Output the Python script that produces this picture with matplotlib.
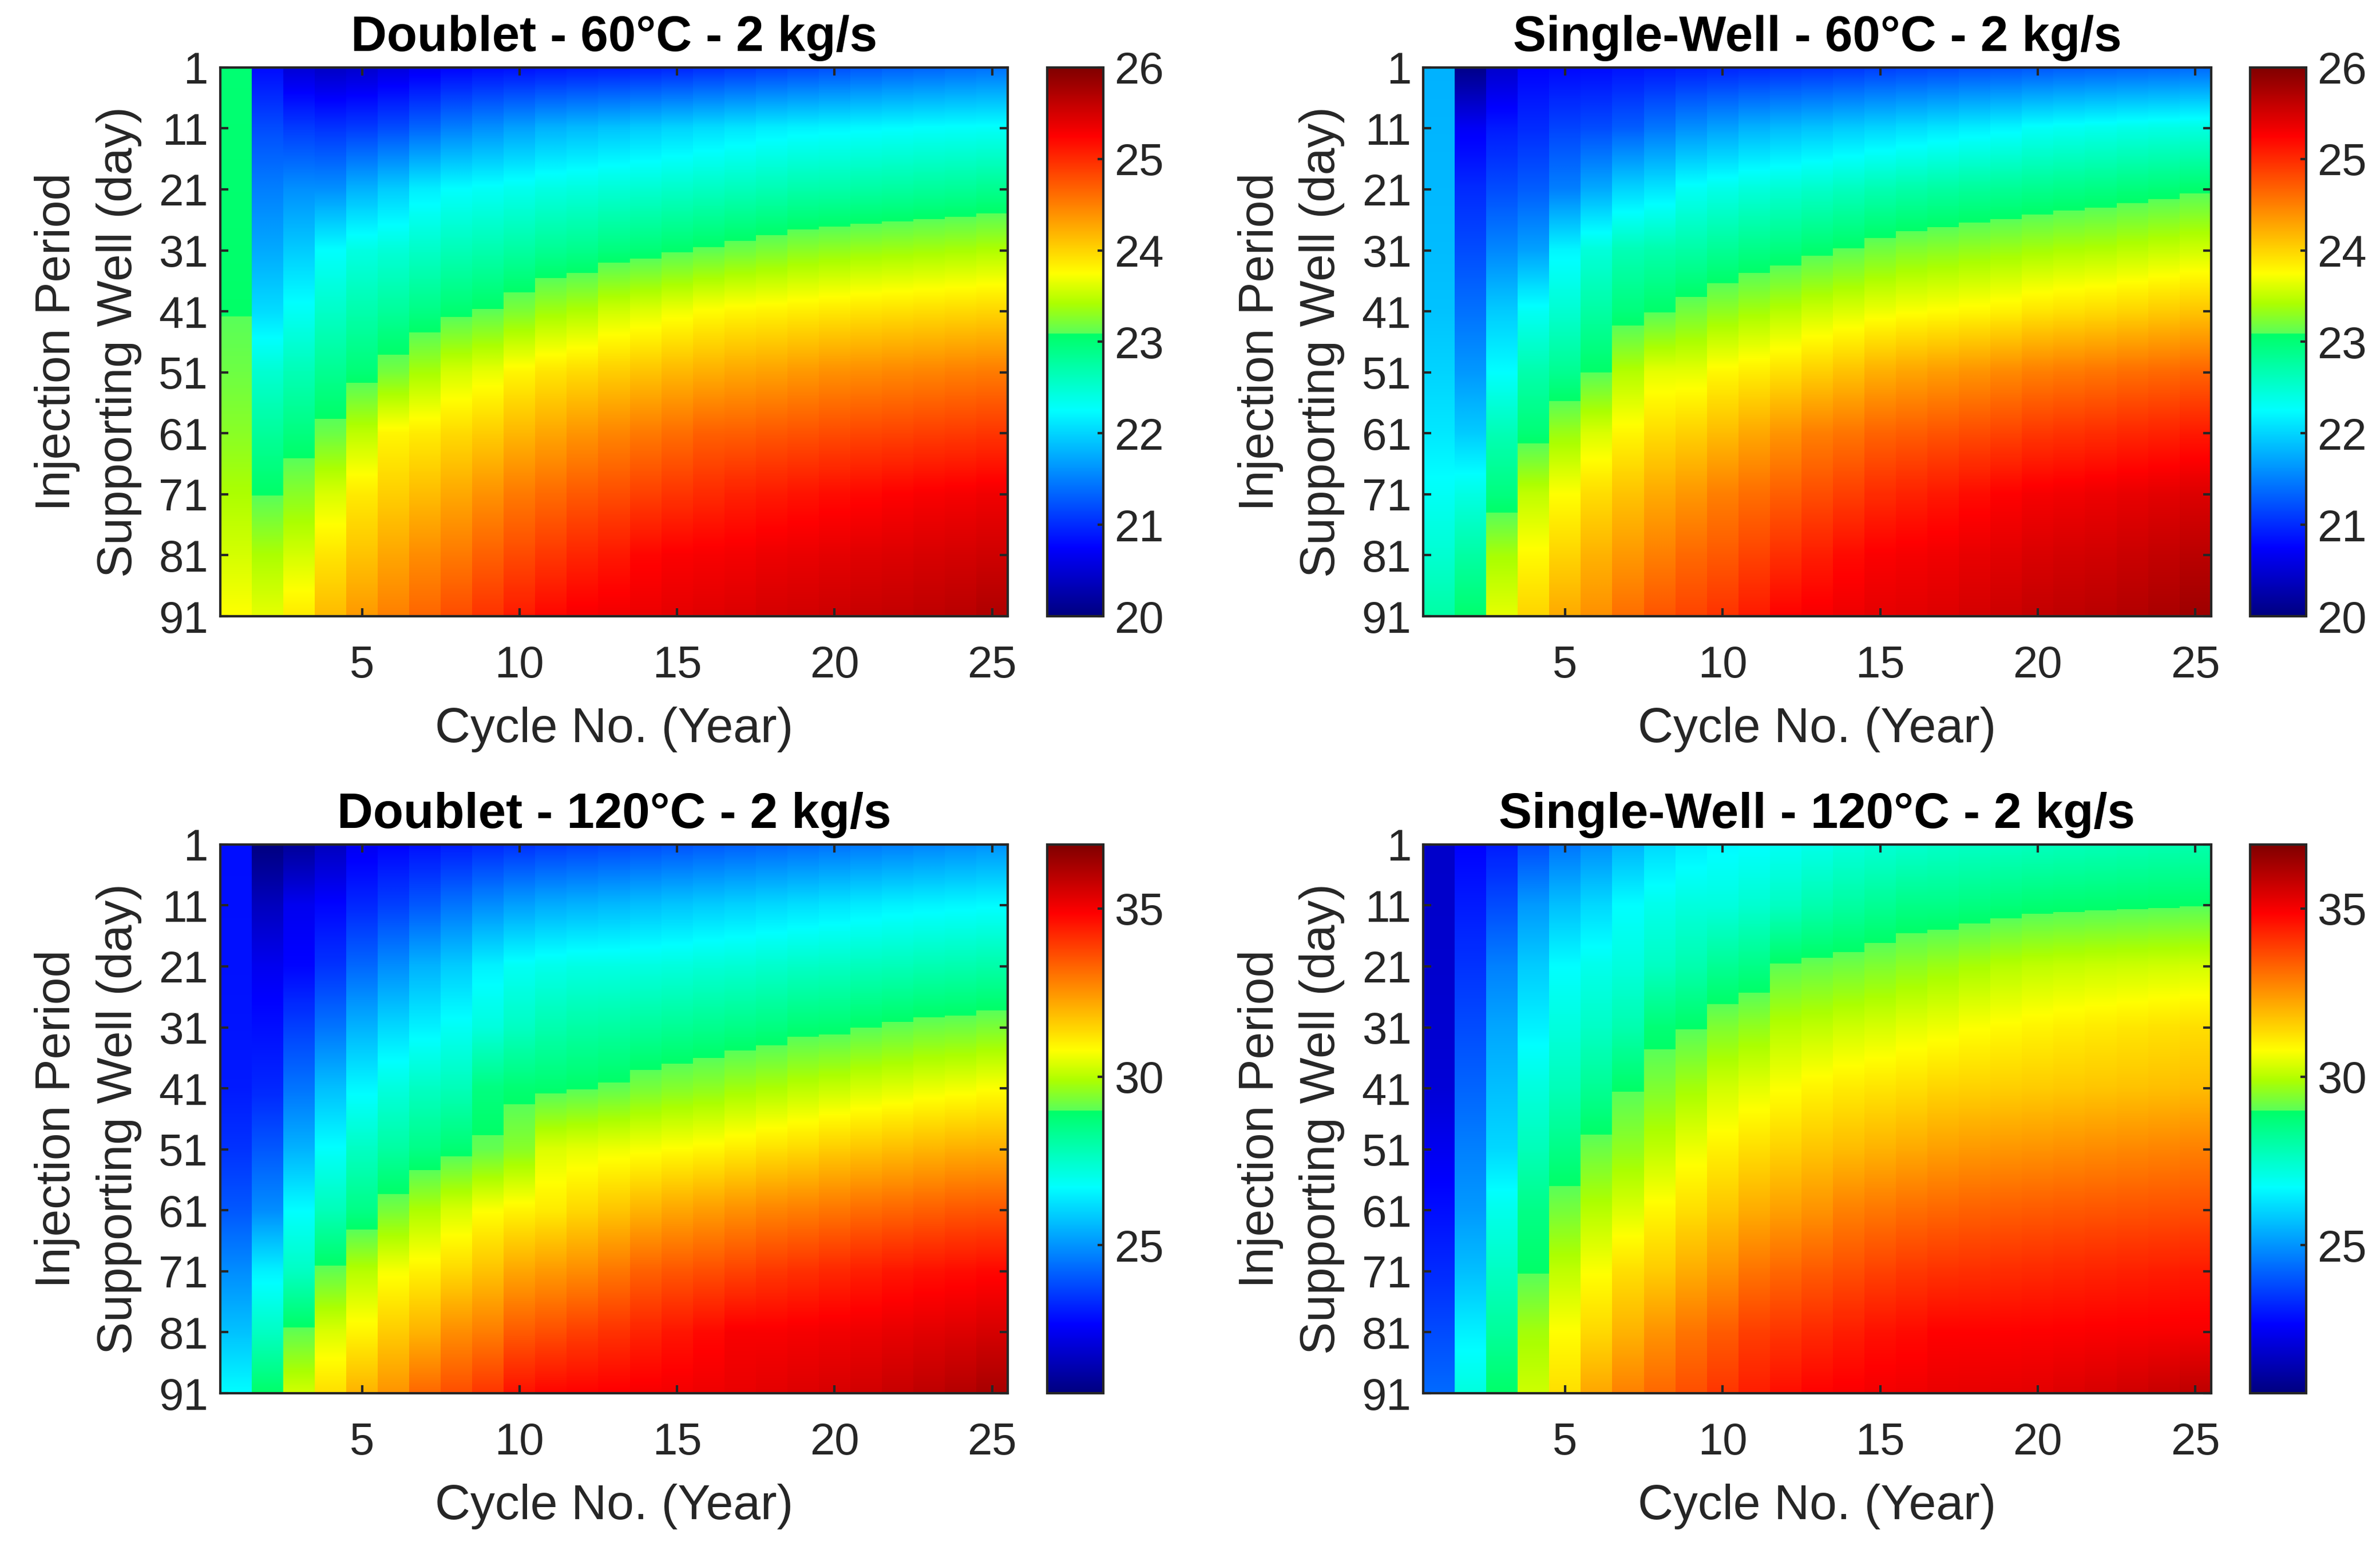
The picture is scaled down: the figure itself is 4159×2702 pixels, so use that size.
import numpy as np
import matplotlib
matplotlib.use("Agg")
import matplotlib.pyplot as plt
from matplotlib.colors import LinearSegmentedColormap, Normalize
from matplotlib.cm import ScalarMappable

# ---------------- data ----------------
cycles = list(range(1, 26))                     # Cycle No. (Year)
days = [1, 11, 21, 31, 41, 51, 61, 71, 81, 91]  # Injection period of supporting well (day)

titles = ["Doublet - 60°C - 2 kg/s", "Single-Well - 60°C - 2 kg/s",
          "Doublet - 120°C - 2 kg/s", "Single-Well - 120°C - 2 kg/s"]

# one row per cycle, values at the days above
doublet_60 = [
    [23.02, 23.03, 23.04, 23.06, 23.08, 23.17, 23.28, 23.42, 23.58, 23.75],
    [20.80, 21.20, 21.50, 21.75, 22.05, 22.50, 22.80, 23.08, 23.42, 23.65],
    [20.50, 21.10, 21.60, 21.95, 22.30, 22.65, 22.95, 23.28, 23.58, 23.87],
    [20.40, 21.05, 21.60, 22.25, 22.55, 22.85, 23.16, 23.60, 23.90, 24.15],
    [20.45, 21.10, 21.80, 22.40, 22.70, 23.00, 23.49, 23.87, 24.10, 24.35],
    [20.55, 21.20, 21.95, 22.46, 22.80, 23.20, 23.80, 24.03, 24.27, 24.50],
    [20.65, 21.35, 22.15, 22.55, 22.92, 23.40, 23.86, 24.14, 24.42, 24.65],
    [20.75, 21.50, 22.25, 22.64, 23.03, 23.58, 23.96, 24.26, 24.53, 24.80],
    [20.80, 21.60, 22.29, 22.69, 23.10, 23.66, 24.04, 24.39, 24.68, 24.95],
    [20.82, 21.70, 22.34, 22.76, 23.23, 23.80, 24.17, 24.53, 24.81, 25.10],
    [20.85, 21.80, 22.40, 22.84, 23.37, 23.90, 24.27, 24.62, 24.92, 25.22],
    [20.88, 21.85, 22.43, 22.88, 23.43, 23.96, 24.37, 24.72, 25.03, 25.30],
    [20.90, 21.90, 22.47, 22.96, 23.56, 24.04, 24.46, 24.79, 25.11, 25.33],
    [20.92, 21.95, 22.50, 23.00, 23.62, 24.10, 24.53, 24.87, 25.22, 25.36],
    [20.95, 22.00, 22.54, 23.06, 23.69, 24.17, 24.60, 24.94, 25.27, 25.40],
    [21.00, 22.05, 22.58, 23.11, 23.76, 24.22, 24.68, 25.00, 25.29, 25.43],
    [21.05, 22.10, 22.62, 23.17, 23.80, 24.27, 24.69, 25.06, 25.31, 25.46],
    [21.10, 22.15, 22.66, 23.22, 23.82, 24.30, 24.73, 25.10, 25.35, 25.50],
    [21.15, 22.18, 22.71, 23.28, 23.85, 24.35, 24.76, 25.14, 25.37, 25.52],
    [21.20, 22.20, 22.72, 23.31, 23.88, 24.40, 24.80, 25.18, 25.40, 25.55],
    [21.25, 22.22, 22.75, 23.34, 23.91, 24.42, 24.83, 25.21, 25.43, 25.58],
    [21.30, 22.24, 22.77, 23.36, 23.93, 24.45, 24.85, 25.25, 25.45, 25.60],
    [21.33, 22.26, 22.80, 23.38, 23.95, 24.47, 24.88, 25.28, 25.48, 25.63],
    [21.37, 22.27, 22.82, 23.40, 23.97, 24.50, 24.90, 25.30, 25.50, 25.66],
    [21.40, 22.28, 22.86, 23.43, 23.99, 24.52, 24.93, 25.33, 25.53, 25.72],
]

single_60 = [
    [21.80, 21.82, 21.84, 21.86, 21.90, 22.00, 22.12, 22.30, 22.50, 22.75],
    [20.05, 20.70, 21.00, 21.20, 21.42, 21.65, 21.95, 22.40, 22.75, 23.05],
    [20.45, 20.90, 21.20, 21.55, 21.95, 22.25, 22.65, 22.95, 23.40, 23.65],
    [20.75, 21.00, 21.30, 21.70, 22.30, 22.70, 23.00, 23.50, 23.78, 24.00],
    [20.78, 21.15, 21.50, 22.20, 22.50, 22.85, 23.35, 23.75, 24.00, 24.25],
    [20.80, 21.20, 21.75, 22.45, 22.75, 23.08, 23.60, 23.95, 24.20, 24.40],
    [20.85, 21.30, 22.00, 22.65, 22.97, 23.45, 23.80, 24.10, 24.35, 24.60],
    [20.88, 21.45, 22.10, 22.70, 23.07, 23.65, 23.95, 24.25, 24.50, 24.75],
    [20.92, 21.60, 22.30, 22.74, 23.19, 23.65, 24.02, 24.36, 24.63, 24.85],
    [20.95, 21.70, 22.37, 22.83, 23.30, 23.79, 24.14, 24.50, 24.72, 24.95],
    [20.97, 21.80, 22.44, 22.91, 23.38, 23.85, 24.26, 24.60, 24.85, 25.10],
    [21.00, 21.85, 22.49, 22.96, 23.46, 23.93, 24.37, 24.69, 24.97, 25.25],
    [21.02, 21.90, 22.54, 23.04, 23.55, 24.03, 24.50, 24.79, 25.08, 25.30],
    [21.05, 21.95, 22.60, 23.10, 23.61, 24.11, 24.56, 24.88, 25.19, 25.35],
    [21.10, 22.00, 22.67, 23.19, 23.68, 24.22, 24.66, 24.99, 25.27, 25.40],
    [21.13, 22.05, 22.72, 23.25, 23.73, 24.28, 24.70, 25.05, 25.30, 25.42],
    [21.16, 22.10, 22.76, 23.28, 23.76, 24.33, 24.75, 25.11, 25.33, 25.45],
    [21.20, 22.15, 22.80, 23.32, 23.79, 24.38, 24.80, 25.18, 25.38, 25.50],
    [21.22, 22.20, 22.83, 23.35, 23.83, 24.44, 24.85, 25.25, 25.42, 25.55],
    [21.25, 22.28, 22.87, 23.39, 23.90, 24.50, 24.92, 25.30, 25.47, 25.60],
    [21.28, 22.31, 22.90, 23.42, 23.93, 24.53, 24.95, 25.32, 25.50, 25.63],
    [21.30, 22.34, 22.93, 23.44, 23.96, 24.56, 24.98, 25.35, 25.52, 25.66],
    [21.32, 22.37, 22.97, 23.48, 24.00, 24.60, 25.02, 25.38, 25.56, 25.70],
    [21.34, 22.39, 23.00, 23.52, 24.05, 24.63, 25.05, 25.41, 25.60, 25.75],
    [21.36, 22.41, 23.05, 23.56, 24.09, 24.66, 25.10, 25.45, 25.65, 25.82],
]

doublet_120 = [
    [22.85, 22.87, 22.90, 22.95, 23.05, 23.45, 24.05, 24.90, 25.75, 26.70],
    [20.60, 21.60, 22.40, 22.85, 23.25, 24.05, 24.90, 26.50, 27.60, 28.95],
    [21.00, 22.40, 22.70, 23.65, 24.50, 25.50, 26.70, 27.60, 29.10, 30.30],
    [21.60, 22.70, 23.45, 24.50, 25.70, 26.75, 27.75, 29.10, 30.40, 31.30],
    [22.40, 23.25, 24.30, 25.50, 26.60, 27.60, 28.50, 30.00, 30.95, 32.00],
    [22.64, 23.65, 24.90, 26.10, 27.20, 28.10, 29.30, 30.70, 31.60, 32.50],
    [22.85, 24.05, 25.50, 26.50, 27.60, 28.50, 29.90, 31.00, 32.00, 33.20],
    [23.05, 24.50, 25.90, 26.85, 27.75, 28.80, 30.35, 31.40, 32.60, 33.60],
    [23.25, 24.90, 26.50, 27.20, 28.60, 29.10, 30.75, 31.75, 32.85, 34.00],
    [23.40, 25.20, 26.85, 27.60, 28.80, 29.50, 30.95, 32.20, 33.40, 34.60],
    [23.55, 25.40, 27.00, 27.90, 28.85, 30.40, 31.10, 32.40, 33.60, 34.80],
    [23.65, 25.50, 27.10, 28.05, 28.95, 30.50, 31.40, 32.60, 33.85, 34.85],
    [23.75, 25.60, 27.10, 28.10, 29.07, 30.60, 31.70, 32.95, 34.05, 34.92],
    [23.85, 25.70, 27.15, 28.20, 29.31, 30.70, 31.99, 33.30, 34.30, 35.00],
    [23.95, 25.80, 27.20, 28.30, 29.45, 30.80, 32.20, 33.47, 34.53, 35.05],
    [24.05, 25.90, 27.30, 28.40, 29.55, 30.90, 32.36, 33.60, 34.73, 35.12],
    [24.15, 26.00, 27.35, 28.50, 29.75, 31.08, 32.55, 33.78, 34.96, 35.20],
    [24.25, 26.10, 27.45, 28.60, 29.88, 31.26, 32.73, 33.96, 34.95, 35.30],
    [24.35, 26.20, 27.55, 28.78, 30.05, 31.38, 32.83, 34.08, 35.01, 35.40],
    [24.45, 26.30, 27.60, 28.82, 30.17, 31.58, 32.97, 34.23, 35.07, 35.50],
    [24.55, 26.40, 27.70, 28.97, 30.32, 31.70, 33.12, 34.37, 35.14, 35.60],
    [24.65, 26.50, 27.75, 29.09, 30.43, 31.83, 33.22, 34.51, 35.23, 35.75],
    [24.75, 26.55, 27.85, 29.20, 30.55, 31.95, 33.33, 34.60, 35.32, 35.90],
    [24.85, 26.60, 27.90, 29.24, 30.63, 32.06, 33.45, 34.67, 35.40, 36.05],
    [24.95, 26.65, 27.98, 29.35, 30.75, 32.09, 33.48, 34.75, 35.52, 36.25],
]

single_120 = [
    [21.80, 21.82, 21.85, 21.90, 22.00, 22.40, 22.85, 23.30, 23.85, 24.35],
    [22.64, 23.05, 23.45, 23.85, 24.25, 24.70, 25.10, 25.70, 26.50, 27.20],
    [23.05, 23.85, 24.70, 25.30, 25.70, 26.10, 27.00, 27.60, 28.20, 28.95],
    [23.85, 25.10, 25.90, 26.50, 27.20, 27.75, 28.50, 28.95, 29.80, 30.25],
    [24.50, 25.70, 26.70, 27.20, 27.75, 28.50, 29.30, 30.10, 30.80, 31.30],
    [24.90, 26.10, 27.00, 27.55, 28.30, 29.20, 30.00, 30.75, 31.40, 32.20],
    [25.50, 26.70, 27.20, 27.90, 28.95, 29.60, 30.40, 31.30, 32.00, 32.80],
    [26.10, 27.00, 27.60, 28.75, 29.40, 30.10, 30.90, 31.60, 32.50, 33.20],
    [26.40, 27.20, 27.90, 28.95, 29.80, 30.60, 31.30, 32.10, 33.00, 33.60],
    [26.60, 27.20, 28.30, 29.40, 30.30, 31.00, 31.70, 32.50, 33.40, 34.00],
    [26.70, 27.40, 28.50, 29.60, 30.50, 31.30, 32.10, 33.00, 33.85, 34.40],
    [26.85, 27.60, 29.05, 30.00, 30.75, 31.50, 32.30, 33.20, 34.00, 34.65],
    [27.00, 27.90, 29.15, 30.10, 30.95, 31.70, 32.50, 33.40, 34.20, 34.85],
    [27.20, 28.10, 29.25, 30.25, 31.10, 31.85, 32.80, 33.60, 34.40, 34.95],
    [27.30, 28.30, 29.40, 30.35, 31.20, 32.00, 32.95, 33.80, 34.60, 35.05],
    [27.40, 28.50, 29.55, 30.50, 31.30, 32.15, 33.10, 33.95, 34.70, 35.10],
    [27.50, 28.50, 29.70, 30.60, 31.45, 32.30, 33.20, 34.05, 34.85, 35.20],
    [27.55, 28.60, 29.85, 30.75, 31.50, 32.40, 33.30, 34.10, 34.85, 35.23],
    [27.60, 28.70, 30.00, 30.85, 31.55, 32.45, 33.35, 34.15, 34.86, 35.26],
    [27.65, 28.80, 30.10, 30.95, 31.60, 32.50, 33.40, 34.20, 34.88, 35.30],
    [27.70, 28.83, 30.15, 31.03, 31.65, 32.56, 33.44, 34.25, 34.90, 35.40],
    [27.75, 28.86, 30.20, 31.10, 31.70, 32.62, 33.48, 34.30, 34.93, 35.50],
    [27.80, 28.89, 30.23, 31.17, 31.75, 32.68, 33.52, 34.35, 34.95, 35.62],
    [27.85, 28.92, 30.27, 31.24, 31.80, 32.74, 33.56, 34.40, 34.97, 35.75],
    [27.90, 28.95, 30.30, 31.30, 31.85, 32.80, 33.60, 34.45, 35.00, 35.90],
]

clim_60 = (20.0, 26.0)
clim_120 = (20.6, 36.9)
cbar_ticks_60 = [20, 21, 22, 23, 24, 25, 26]
cbar_ticks_120 = [25, 30, 35]
x_ticks = [5, 10, 15, 20, 25]

# ---------------- style ----------------
plt.rcParams['font.family'] = ['Liberation Sans', 'DejaVu Sans']
TXT = '#262626'
FS_TICK = 18.7
FS_LABEL = 20.6
FS_TITLE = 20.9

cdict = {
    'red':   [(0.0, 0, 0), (0.515, 0, 0.35), (0.625, 1, 1), (0.875, 1, 1), (1.0, 0.5, 0.5)],
    'green': [(0.0, 0, 0), (0.125, 0, 0), (0.375, 1, 1), (0.625, 1, 1), (0.875, 0, 0), (1.0, 0, 0)],
    'blue':  [(0.0, 0.5, 0.5), (0.125, 1, 1), (0.375, 1, 1), (0.515, 0.4, 0.35), (0.57, 0, 0), (1.0, 0, 0)],
}
cmap = LinearSegmentedColormap('jetstep', cdict, N=1024)

fig = plt.figure(figsize=(4159 / 300, 2702 / 300), dpi=300)
fig.patch.set_facecolor('white')

ax_w, ax_h = 0.331, 0.355
cb_w = 0.0236
left_x = [0.0925, 0.598]
cb_x = [0.440, 0.9455]
bottom_y = [0.6014, 0.0988]

panels = [
    (doublet_60, titles[0], clim_60, cbar_ticks_60, 0, 0),
    (single_60, titles[1], clim_60, cbar_ticks_60, 0, 1),
    (doublet_120, titles[2], clim_120, cbar_ticks_120, 1, 0),
    (single_120, titles[3], clim_120, cbar_ticks_120, 1, 1),
]

d = np.asarray(days, float)
half = (d[1] - d[0]) / 2.0

for data, title, clim, cticks, r, c in panels:
    ax = fig.add_axes([left_x[c], bottom_y[r], ax_w, ax_h])
    cax = fig.add_axes([cb_x[c], bottom_y[r], cb_w, ax_h])
    Z = np.asarray(data, float).T  # (days, cycles)
    norm = Normalize(vmin=clim[0], vmax=clim[1])
    for j, cyc in enumerate(cycles):
        ax.imshow(Z[:, j:j + 1], cmap=cmap, norm=norm, aspect='auto',
                  origin='upper', interpolation='bilinear',
                  interpolation_stage='data',
                  extent=(cyc - 0.5, cyc + 0.53, d[-1] + half, d[0] - half))
    ax.set_xlim(cycles[0] - 0.5, cycles[-1] + 0.5)
    ax.set_ylim(days[-1], days[0])
    ax.set_xticks(x_ticks)
    ax.set_yticks(days)
    ax.tick_params(axis='both', direction='in', length=3.4, width=1.0,
                   top=True, right=True, colors=TXT, labelsize=FS_TICK)
    ax.tick_params(axis='x', pad=12)
    ax.tick_params(axis='y', pad=5)
    for sp in ax.spines.values():
        sp.set_linewidth(1.0)
        sp.set_color(TXT)
    ax.set_title(title, fontsize=FS_TITLE, fontweight='bold', pad=7, color='black')
    ax.set_xlabel('Cycle No. (Year)', fontsize=FS_LABEL, color=TXT, labelpad=8.5)
    ax.set_ylabel('Injection Period\nSupporting Well (day)', fontsize=FS_LABEL,
                  color=TXT, labelpad=7, linespacing=1.45)

    sm = ScalarMappable(norm=norm, cmap=cmap)
    cb = fig.colorbar(sm, cax=cax, ticks=cticks)
    cb.ax.tick_params(direction='in', length=2.4, width=1.0, colors=TXT,
                      labelsize=FS_TICK, pad=4.5)
    cb.outline.set_linewidth(1.0)
    cb.outline.set_edgecolor(TXT)

fig.savefig('out.png', dpi=300, facecolor='white')
